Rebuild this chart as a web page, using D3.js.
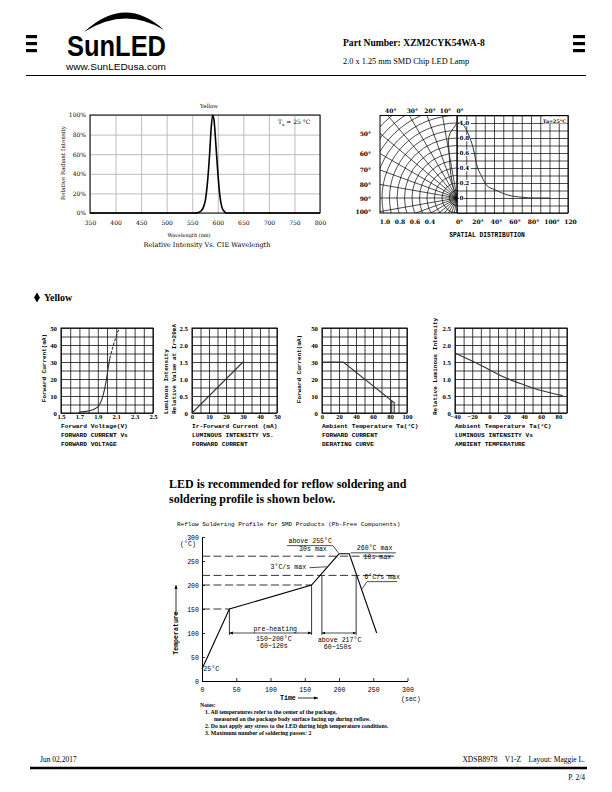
<!DOCTYPE html>
<html><head><meta charset="utf-8">
<script src="https://cdn.jsdelivr.net/npm/d3@7"></script>
<style>body{margin:0;background:#fff}svg{display:block}</style>
</head><body>
<svg id="page" width="612" height="792"></svg>
<script>
// ================= DATA =================
// Spectrum
const specWavelength = [350, 555, 562, 567, 572, 576, 580, 584, 587, 590, 593, 596, 600, 604, 608, 612, 617, 625, 800];
const specIntensity  = [0,   0,   0.005,0.02,0.06, 0.14, 0.32, 0.6, 0.86, 1.0, 0.93, 0.72, 0.42, 0.18, 0.06, 0.02, 0,   0,   0];
const specXTicks = [350, 400, 450, 500, 550, 600, 650, 700, 750, 800];
const specYTicks = [0, 0.2, 0.4, 0.6, 0.8, 1.0];
const specYLabels = ["0%", "20%", "40%", "60%", "80%", "100%"];

// Spatial distribution
const spatialAngles = [0, 4, 10, 14, 18, 21, 27, 32, 41, 55, 70, 85, 100];
const spatialValues = [1.0, 1.0, 0.91, 0.80, 0.64, 0.46, 0.28, 0.17, 0.11, 0.04, 0.01, 0, 0];
const polarAngles = [0, 3, 6, 8.5, 9.5, 12.5, 17.5, 30];
const polarValues = [1.0, 0.93, 0.87, 0.78, 0.65, 0.43, 0.21, 0.03];
const spatialTopAngles = [40, 30, 20, 10, 0];
const spatialSideAngles = [50, 60, 70, 80, 90, 100];
const spatialRadiusTicks = [1.0, 0.8, 0.6, 0.4];
const spatialAngleTicks = [0, 20, 40, 60, 80, 100, 120];
const spatialAngleLabels = ["0°", "20°", "40°", "60°", "80°", "100°", "120"];
const spatialValueTicks = [1.0, 0.8, 0.6, 0.4, 0.2, 0];
const spatialValueLabels = ["1.0", "0.8", "0.6", "0.4", "0.2", "0"];

// Forward current vs forward voltage
const ivVoltage = [1.69, 1.75, 1.82, 1.87, 1.92, 1.96, 1.99, 2.01, 2.03, 2.07, 2.12, 2.14];
const ivCurrent = [0.3, 0.8, 1.5, 2.5, 5, 10.8, 18.6, 25.5, 32, 40, 48, 50];
const ivDashFrom = 8; // index where curve becomes dashed
const ivXTicks = [1.5, 1.7, 1.9, 2.1, 2.3, 2.5];
const ivYTicks = [0, 10, 20, 30, 40, 50];

// Luminous intensity vs forward current
const liCurrent = [0, 30];
const liValue = [0, 1.5];
const liXTicks = [0, 10, 20, 30, 40, 50];
const liYTicks = [0, 0.5, 1.0, 1.5, 2.0, 2.5];

// Derating curve
const derTemp = [0, 25, 85, 85];
const derCurrent = [30, 30, 6, 0];
const derEdgeTemp = [82, 82];
const derEdgeCurrent = [7.2, 0];
const derXTicks = [0, 20, 40, 60, 80, 100];
const derYTicks = [0, 10, 20, 30, 40, 50];

// Luminous intensity vs ambient temperature
const ltTemp = [-40, -20, 0, 20, 40, 60, 85];
const ltValue = [1.76, 1.53, 1.27, 1.02, 0.83, 0.66, 0.51];
const ltXTicks = [-40, -20, 0, 20, 40, 60, 80];
const ltYTicks = [0, 0.5, 1.0, 1.5, 2.0, 2.5];

// Reflow profile
const reflowTime = [0, 40, 160, 200, 215, 255];
const reflowTemp = [25, 150, 200, 265, 265, 100];
const reflowTicks = [0, 50, 100, 150, 200, 250, 300];
const dashLevels = [150, 200, 220, 260];
const dashEnds = [40, 160, 285, 285];
const guideTimes = [40, 160, 175, 225];
const guideTops = [150, 200, 220, 220];
const guideBottom = 96;
const arrowStarts = [40, 175];
const arrowEnds = [160, 225];
const arrowLevel = 100;

// ================= HELPERS =================
const SERIF = "Liberation Serif", DJ = "DejaVu Serif", MONO = "Liberation Mono", SANS = "Liberation Sans";
const svg = d3.select("#page");
svg.append("rect").attr("width", 612).attr("height", 792).attr("fill", "#fff");

const defs = svg.append("defs");
defs.append("marker").attr("id", "arr").attr("viewBox", "0 0 10 10").attr("refX", 10).attr("refY", 5)
  .attr("markerWidth", 5).attr("markerHeight", 5).attr("orient", "auto-start-reverse")
  .append("path").attr("d", "M0,1 L10,5 L0,9 Z").attr("fill", "#000");

function txt(g, x, y, s, o = {}) {
  const t = g.append("text").attr("x", x).attr("y", y).text(s)
    .attr("font-family", o.ff || SERIF).attr("font-size", o.fs || 8)
    .attr("font-weight", o.fw || "normal").attr("text-anchor", o.anchor || "start")
    .attr("fill", o.fill || "#000");
  if (o.rotate) t.attr("transform", `rotate(${o.rotate},${x},${y})`);
  if (o.ls) t.attr("letter-spacing", o.ls);
  return t;
}
function styleAxis(sel, o) {
  sel.attr("font-family", o.ff).attr("font-size", o.fs).attr("font-weight", o.fw || "normal");
  sel.selectAll("text").attr("fill", "#000");
  sel.selectAll("line").attr("stroke", o.stroke || "#000").attr("stroke-width", o.sw || 0.8);
  if (o.noDomain) sel.select(".domain").remove();
  else sel.select(".domain").attr("stroke", "#000");
}

// ================= HEADER =================
const head = svg.append("g");
[0, 1, 2].forEach(i => {
  head.append("rect").attr("x", 26).attr("y", 35 + i * 7).attr("width", 11).attr("height", 3.2).attr("fill", "#000");
  head.append("rect").attr("x", 573).attr("y", 35 + i * 7).attr("width", 12).attr("height", 3.2).attr("fill", "#000");
});
head.append("path").attr("d", "M84,32 Q125,-6 164,30 Q125,6 84,32 Z").attr("fill", "#000");
txt(head, 67, 55.5, "SunLED", { ff: SANS, fs: 29.5, fw: "bold" }).attr("textLength", 99).attr("lengthAdjust", "spacingAndGlyphs");
txt(head, 66, 69.5, "www.SunLEDusa.com", { ff: SANS, fs: 8.3 }).attr("textLength", 100).attr("lengthAdjust", "spacingAndGlyphs");
txt(head, 343, 46, "Part Number: XZM2CYK54WA-8", { fs: 9.6, fw: "bold" });
txt(head, 343, 64, "2.0 x 1.25 mm SMD Chip LED Lamp", { fs: 8.3 });
head.append("line").attr("x1", 26).attr("x2", 586).attr("y1", 75.5).attr("y2", 75.5).attr("stroke", "#000").attr("stroke-width", 1);

// ================= SPECTRUM =================
{
  const L = 90, R = 320, T = 115, B = 213;
  const x = d3.scaleLinear().domain([350, 800]).range([L, R]);
  const y = d3.scaleLinear().domain([0, 1]).range([B, T]);
  const g = svg.append("g");
  g.append("g").attr("transform", `translate(0,${B})`)
    .call(d3.axisBottom(x).tickValues(specXTicks).tickSize(-(B - T)).tickFormat(""))
    .call(s => styleAxis(s, { stroke: "#b5b5b5", sw: 0.9, noDomain: true }));
  g.append("g").attr("transform", `translate(${L},0)`)
    .call(d3.axisLeft(y).tickValues(specYTicks).tickSize(-(R - L)).tickFormat(""))
    .call(s => styleAxis(s, { stroke: "#b5b5b5", sw: 0.9, noDomain: true }));
  g.append("rect").attr("x", L).attr("y", T).attr("width", R - L).attr("height", B - T)
    .attr("fill", "none").attr("stroke", "#000").attr("stroke-width", 1);
  g.append("g").attr("transform", `translate(0,${B})`)
    .call(d3.axisBottom(x).tickValues(specXTicks).tickSize(0).tickPadding(8))
    .call(s => styleAxis(s, { ff: DJ, fs: 6, noDomain: true }));
  g.append("g").attr("transform", `translate(${L},0)`)
    .call(d3.axisLeft(y).tickValues(specYTicks).tickSize(0).tickPadding(4).tickFormat((d, i) => specYLabels[i]))
    .call(s => styleAxis(s, { ff: DJ, fs: 6, noDomain: true }));
  const pts = specWavelength.map((w, i) => [w, specIntensity[i]]);
  g.append("path").attr("d", d3.line().x(d => x(d[0])).y(d => y(d[1])).curve(d3.curveMonotoneX)(pts))
    .attr("fill", "none").attr("stroke", "#000").attr("stroke-width", 1.6);
  txt(g, 209, 108, "Yellow", { ff: DJ, fs: 5.5, anchor: "middle" });
  const ta = txt(g, 278, 124, "T", { ff: DJ, fs: 6 });
  ta.append("tspan").attr("font-size", 4).attr("dy", 1.5).text("a");
  ta.append("tspan").attr("dy", -1.5).text(" = 25 °C");
  txt(g, 189, 237, "Wavelength (nm)", { ff: DJ, fs: 5, anchor: "middle" });
  txt(g, 207, 247, "Relative Intensity Vs. CIE Wavelength", { ff: DJ, fs: 6.6, anchor: "middle" });
  txt(g, 65, 163, "Relative Radiant Intensity", { ff: DJ, fs: 5.6, anchor: "middle", rotate: -90 });
}

// ================= SPATIAL DISTRIBUTION =================
{
  const L = 380, R = 568;
  const a = d3.scaleLinear().domain([0, 120]).range([457, R]);
  const v = d3.scaleLinear().domain([-0.2, 1.1]).range([213, 115.5]);
  const cx = a(0), cy = v(0);
  const r = d3.scaleLinear().domain([0, 1]).range([0, cy - v(1)]);
  const T = v(1.1), B = v(-0.2);
  const g = svg.append("g");
  defs.append("clipPath").attr("id", "polarClip").append("rect")
    .attr("x", L).attr("y", T).attr("width", cx - L).attr("height", B - T);
  const pg = g.append("g").attr("clip-path", "url(#polarClip)");
  d3.range(1, 17).forEach(k => {
    pg.append("circle").attr("cx", cx).attr("cy", cy).attr("r", r(k / 10))
      .attr("fill", "none").attr("stroke", "#000").attr("stroke-width", 0.7);
  });
  const radial = d3.lineRadial().angle(d => d[0]).radius(d => d[1]);
  d3.range(0, 181, 10).forEach(deg => {
    const ang = -deg * Math.PI / 180;
    pg.append("path").attr("transform", `translate(${cx},${cy})`)
      .attr("d", radial([[ang, 0], [ang, r(2)]])).attr("stroke", "#000").attr("stroke-width", 0.7);
  });
  // right rectangular grid
  g.append("g").attr("transform", `translate(0,${B})`)
    .call(d3.axisBottom(a).tickValues(d3.range(0, 121, 10)).tickSize(-(B - T)).tickFormat(""))
    .call(s => styleAxis(s, { sw: 0.7, noDomain: true }));
  g.append("g").attr("transform", `translate(${cx},0)`)
    .call(d3.axisRight(v).tickValues(d3.range(-2, 12).map(k => k / 10)).tickSize(R - cx).tickFormat(""))
    .call(s => styleAxis(s, { sw: 0.7, noDomain: true }));
  g.append("rect").attr("x", L).attr("y", T).attr("width", R - L).attr("height", B - T)
    .attr("fill", "none").attr("stroke", "#000").attr("stroke-width", 1);
  g.append("line").attr("x1", cx).attr("x2", cx).attr("y1", T).attr("y2", B).attr("stroke", "#000").attr("stroke-width", 1);
  // value labels inside
  spatialValueTicks.forEach((d, i) => {
    g.append("rect").attr("x", cx + 2).attr("y", v(d) - 3).attr("width", spatialValueLabels[i].length * 3.6 + 1).attr("height", 6).attr("fill", "#fff");
    txt(g, cx + 2.5, v(d) + 2.2, spatialValueLabels[i], { ff: DJ, fs: 5.6, fw: "bold" });
  });
  g.append("rect").attr("x", 543).attr("y", T + 1).attr("width", 24).attr("height", 7).attr("fill", "#fff");
  txt(g, 566, T + 7, "Ta=25°C", { ff: DJ, fs: 4.8, fw: "bold", anchor: "end" });
  // curves
  const pts = spatialAngles.map((d, i) => [d, spatialValues[i]]);
  g.append("path").attr("d", d3.line().x(d => a(d[0])).y(d => v(d[1])).curve(d3.curveMonotoneX)(pts))
    .attr("fill", "none").attr("stroke", "#333").attr("stroke-width", 1);
  const ppts = polarAngles.map((d, i) => [-d * Math.PI / 180, r(polarValues[i])]);
  g.append("path").attr("transform", `translate(${cx},${cy})`)
    .attr("d", d3.lineRadial().angle(d => d[0]).radius(d => d[1]).curve(d3.curveCatmullRom)(ppts))
    .attr("fill", "none").attr("stroke", "#333").attr("stroke-width", 1);
  // labels
  spatialTopAngles.forEach(d => {
    const hx = cx - (cy - T) * Math.tan(d * Math.PI / 180);
    txt(g, hx + 3, T - 3, d + "°", { ff: DJ, fs: 6, fw: "bold", anchor: "middle" });
  });
  spatialSideAngles.forEach(d => {
    const hy = cy - (cx - L) / Math.tan(d * Math.PI / 180);
    txt(g, L - 9, hy + 2.5, d + "°", { ff: DJ, fs: 6, fw: "bold", anchor: "end" });
  });
  spatialRadiusTicks.forEach(d => {
    txt(g, cx - r(d) + 3, 224, d3.format(".1f")(d), { ff: DJ, fs: 6, fw: "bold", anchor: "middle" });
  });
  spatialAngleTicks.forEach((d, i) => {
    txt(g, a(d) + 2.5, 224, spatialAngleLabels[i], { ff: DJ, fs: 6, fw: "bold", anchor: "middle" });
  });
  txt(g, 487, 237, "SPATIAL DISTRIBUTION", { ff: MONO, fs: 6.3, fw: "bold", anchor: "middle" });
}

// ================= SMALL CHARTS =================
function smallChart(c) {
  const x = d3.scaleLinear().domain(c.xDomain).range([c.left, c.right]);
  const y = d3.scaleLinear().domain(c.yDomain).range([413, 328]);
  const T = 328, B = 413;
  const g = svg.append("g");
  g.append("g").attr("transform", `translate(0,${B})`)
    .call(d3.axisBottom(x).tickValues(c.xGrid).tickSize(-(B - T)).tickFormat(""))
    .call(s => styleAxis(s, { sw: 0.75, noDomain: true }));
  g.append("g").attr("transform", `translate(${c.left},0)`)
    .call(d3.axisLeft(y).tickValues(c.yGrid).tickSize(-(c.right - c.left)).tickFormat(""))
    .call(s => styleAxis(s, { sw: 0.75, noDomain: true }));
  g.append("rect").attr("x", c.left).attr("y", T).attr("width", c.right - c.left).attr("height", B - T)
    .attr("fill", "none").attr("stroke", "#000").attr("stroke-width", 1);
  g.append("g").attr("transform", `translate(0,${B})`)
    .call(d3.axisBottom(x).tickValues(c.xTicks).tickSize(0).tickPadding(1.5).tickFormat(c.xFmt || (d => d)))
    .call(s => styleAxis(s, { ff: SERIF, fs: 6.6, fw: "bold", noDomain: true }));
  g.append("g").attr("transform", `translate(${c.left},0)`)
    .call(d3.axisLeft(y).tickValues(c.yTicks).tickSize(0).tickPadding(4).tickFormat(c.yFmt || (d => d)))
    .call(s => styleAxis(s, { ff: SERIF, fs: 6.8, fw: "bold", noDomain: true }));
  c.captions.forEach((s, i) => txt(g, c.left, 427.5 + i * 9, s, { ff: MONO, fs: 6.2, fw: "bold" }));
  c.yTitles.forEach(t => txt(g, t.x, t.y, t.s, { ff: MONO, fs: 6, fw: "bold", anchor: t.anchor || "middle", rotate: -90 }));
  return { x, y, g };
}
const lineStyle = p => p.attr("fill", "none").attr("stroke", "#333").attr("stroke-width", 1.1);

{ // Chart 1
  const c = smallChart({ left: 61, right: 153, xDomain: [1.5, 2.5], yDomain: [0, 50],
    xGrid: d3.range(0, 11).map(k => 1.5 + k / 10), yGrid: d3.range(0, 51, 5),
    xTicks: ivXTicks, yTicks: ivYTicks, xFmt: d3.format(".1f"),
    captions: ["Forward Voltage(V)", "FORWARD CURRENT Vs", "FORWARD VOLTAGE"],
    yTitles: [{ x: 46, y: 368, s: "Forward Current(mA)" }] });
  const pts = ivVoltage.map((d, i) => [d, ivCurrent[i]]);
  const ln = d3.line().x(d => c.x(d[0])).y(d => c.y(d[1])).curve(d3.curveMonotoneX);
  lineStyle(c.g.append("path").attr("d", ln(pts.slice(0, ivDashFrom + 1))));
  lineStyle(c.g.append("path").attr("d", ln(pts.slice(ivDashFrom)))).attr("stroke-dasharray", "3,1.5");
}
{ // Chart 2
  const c = smallChart({ left: 192, right: 277, xDomain: [0, 50], yDomain: [0, 2.5],
    xGrid: d3.range(0, 51, 5), yGrid: d3.range(0, 11).map(k => k * 0.25),
    xTicks: liXTicks, yTicks: liYTicks, yFmt: d => d === 0 ? "0" : d3.format(".1f")(d),
    captions: ["Ir-Forward Current (mA)", "LUMINOUS INTENSITY VS.", "FORWARD CURRENT"],
    yTitles: [{ x: 168, y: 414, s: "Luminous Intensity", anchor: "start" }, { x: 175.5, y: 414, s: "Relative Value at Ir=20mA", anchor: "start" }] });
  const pts = liCurrent.map((d, i) => [d, liValue[i]]);
  lineStyle(c.g.append("path").attr("d", d3.line().x(d => c.x(d[0])).y(d => c.y(d[1]))(pts)));
}
{ // Chart 3
  const c = smallChart({ left: 322, right: 407, xDomain: [0, 100], yDomain: [0, 50],
    xGrid: d3.range(0, 101, 10), yGrid: d3.range(0, 51, 5),
    xTicks: derXTicks, yTicks: derYTicks,
    captions: ["Ambient Temperature Ta(°C)", "FORWARD CURRENT", "DERATING CURVE"],
    yTitles: [{ x: 301, y: 369, s: "Forward Current(mA)" }] });
  const ln = d3.line().x(d => c.x(d[0])).y(d => c.y(d[1]));
  lineStyle(c.g.append("path").attr("d", ln(derTemp.map((d, i) => [d, derCurrent[i]]))));
  lineStyle(c.g.append("path").attr("d", ln(derEdgeTemp.map((d, i) => [d, derEdgeCurrent[i]]))));
}
{ // Chart 4
  const c = smallChart({ left: 455, right: 567, xDomain: [-40, 90], yDomain: [0, 2.5],
    xGrid: d3.range(-40, 91, 10), yGrid: d3.range(0, 11).map(k => k * 0.25),
    xTicks: ltXTicks, yTicks: ltYTicks, xFmt: d => d < 0 ? "−" + (-d) : d, yFmt: d => d === 0 ? "0" : d3.format(".1f")(d),
    captions: ["Ambient Temperature Ta(°C)", "LUMINOUS INTENSITY Vs", "AMBIENT TEMPERATURE"],
    yTitles: [{ x: 437, y: 415, s: "Relative Luminous Intensity", anchor: "start" }] });
  const pts = ltTemp.map((d, i) => [d, ltValue[i]]);
  lineStyle(c.g.append("path").attr("d", d3.line().x(d => c.x(d[0])).y(d => c.y(d[1])).curve(d3.curveMonotoneX)(pts)));
}

// ================= SECTION TEXT =================
const sec = svg.append("g");
sec.append("path").attr("d", d3.symbol().type(d3.symbolDiamond).size(30)()).attr("transform", "translate(37,297.5)").attr("fill", "#000");
txt(sec, 44, 301, "Yellow", { fs: 10, fw: "bold" });
txt(sec, 169, 488, "LED is recommended for reflow soldering and", { fs: 12, fw: "bold" });
txt(sec, 169, 503, "soldering profile is shown below.", { fs: 12, fw: "bold" });

// ================= REFLOW =================
{
  const x = d3.scaleLinear().domain([0, 300]).range([202, 407.5]);
  const y = d3.scaleLinear().domain([0, 300]).range([681, 537]);
  const g = svg.append("g");
  const F = { ff: MONO, fs: 6.6 };
  txt(g, 177, 526, "Reflow Soldering Profile for SMD Products (Pb-Free Components)", { ff: MONO, fs: 6 });
  g.append("g").attr("transform", `translate(${x(0)},0)`)
    .call(d3.axisLeft(y).tickValues(reflowTicks).tickSize(-3).tickSizeOuter(0).tickPadding(3))
    .call(s => styleAxis(s, { ff: MONO, fs: 6.6, sw: 0.8 }));
  g.append("g").attr("transform", `translate(0,${y(0)})`)
    .call(d3.axisBottom(x).tickValues(reflowTicks).tickSize(-3).tickSizeOuter(0).tickPadding(6))
    .call(s => styleAxis(s, { ff: MONO, fs: 6.6, sw: 0.8 }));
  // dashed levels
  dashLevels.forEach((lv, i) => {
    g.append("line").attr("x1", x(0)).attr("x2", x(dashEnds[i])).attr("y1", y(lv)).attr("y2", y(lv))
      .attr("stroke", "#000").attr("stroke-width", 0.8).attr("stroke-dasharray", "8,3.5");
  });
  guideTimes.forEach((t, i) => {
    g.append("line").attr("x1", x(t)).attr("x2", x(t)).attr("y1", y(guideTops[i])).attr("y2", y(guideBottom))
      .attr("stroke", "#000").attr("stroke-width", 0.8);
  });
  arrowStarts.forEach((t, i) => {
    g.append("line").attr("x1", x(t)).attr("x2", x(arrowEnds[i])).attr("y1", y(arrowLevel)).attr("y2", y(arrowLevel))
      .attr("stroke", "#000").attr("stroke-width", 0.7).attr("marker-start", "url(#arr)").attr("marker-end", "url(#arr)");
  });
  const pts = reflowTime.map((d, i) => [d, reflowTemp[i]]);
  g.append("path").attr("d", d3.line().x(d => x(d[0])).y(d => y(d[1]))(pts))
    .attr("fill", "none").attr("stroke", "#000").attr("stroke-width", 1.1);
  // annotations
  txt(g, x(2), y(20), "25°C", F);
  txt(g, x(107), y(105), "pre-heating", { ...F, anchor: "middle" });
  txt(g, x(105), y(84), "150~200°C", { ...F, anchor: "middle" });
  txt(g, x(105), y(68), "60~120s", { ...F, anchor: "middle" });
  txt(g, x(201), y(82), "above 217°C", { ...F, anchor: "middle" });
  txt(g, x(198), y(67), "60~150s", { ...F, anchor: "middle" });
  txt(g, x(158), y(288), "above 255°C", { ...F, anchor: "middle" });
  txt(g, x(162), y(270), "30s max", { ...F, anchor: "middle" });
  const seg = (t1, v1, t2, v2) => g.append("line").attr("x1", x(t1)).attr("y1", y(v1)).attr("x2", x(t2)).attr("y2", y(v2)).attr("stroke", "#000").attr("stroke-width", 0.7);
  seg(124, 282, 191, 282); seg(191, 282, 199, 267);
  txt(g, x(252), y(272), "260°C max", { ...F, anchor: "middle" });
  txt(g, x(256), y(254), "10s max", { ...F, anchor: "middle" });
  seg(217, 267, 283, 267);
  txt(g, x(126), y(233), "3°C/s max", { ...F, anchor: "middle" });
  seg(157, 236, 182, 238);
  txt(g, x(263), y(211.5), "6°C/s max", { ...F, anchor: "middle" });
  seg(241, 207, 285, 207); seg(241, 207, 233, 191);
  txt(g, x(0) - 14, y(300) + 9, "(°C)", { ...F, anchor: "middle" });
  txt(g, 178, 633, "Temperature", { ...F, fw: "bold", anchor: "middle", rotate: -90 });
  g.append("line").attr("x1", 176).attr("x2", 176).attr("y1", 616).attr("y2", 585).attr("stroke", "#000").attr("stroke-width", 0.8).attr("marker-end", "url(#arr)");
  txt(g, 280, 700, "Time", { ...F, fw: "bold" });
  g.append("line").attr("x1", 298).attr("x2", 318).attr("y1", 698).attr("y2", 698).attr("stroke", "#000").attr("stroke-width", 0.8).attr("marker-end", "url(#arr)");
  txt(g, 401, 701, "(sec)", F);
}

// ================= NOTES =================
const notes = svg.append("g");
const noteLines = [
  [200, 707, "Notes:"],
  [205, 714, "1. All temperatures refer to the center of the package,"],
  [214, 721, "measured on the package body surface facing up during reflow."],
  [205, 728, "2. Do not apply any stress to the LED during high temperature conditions."],
  [205, 735, "3. Maximum number of soldering passes: 2"]
];
noteLines.forEach(d => txt(notes, d[0], d[1], d[2], { fs: 5.8, fw: "bold" }));

// ================= FOOTER =================
const foot = svg.append("g");
txt(foot, 40, 762, "Jun 02,2017", { fs: 7.5 });
txt(foot, 585, 762, "XDSB8978    V1-Z    Layout: Maggie L.", { fs: 7.5, anchor: "end" }).attr("xml:space", "preserve").style("white-space", "pre");
foot.append("line").attr("x1", 30).attr("x2", 587).attr("y1", 768).attr("y2", 768).attr("stroke", "#000").attr("stroke-width", 2.4);
txt(foot, 585, 780, "P. 2/4", { fs: 7.5, anchor: "end" });
</script>
</body></html>
